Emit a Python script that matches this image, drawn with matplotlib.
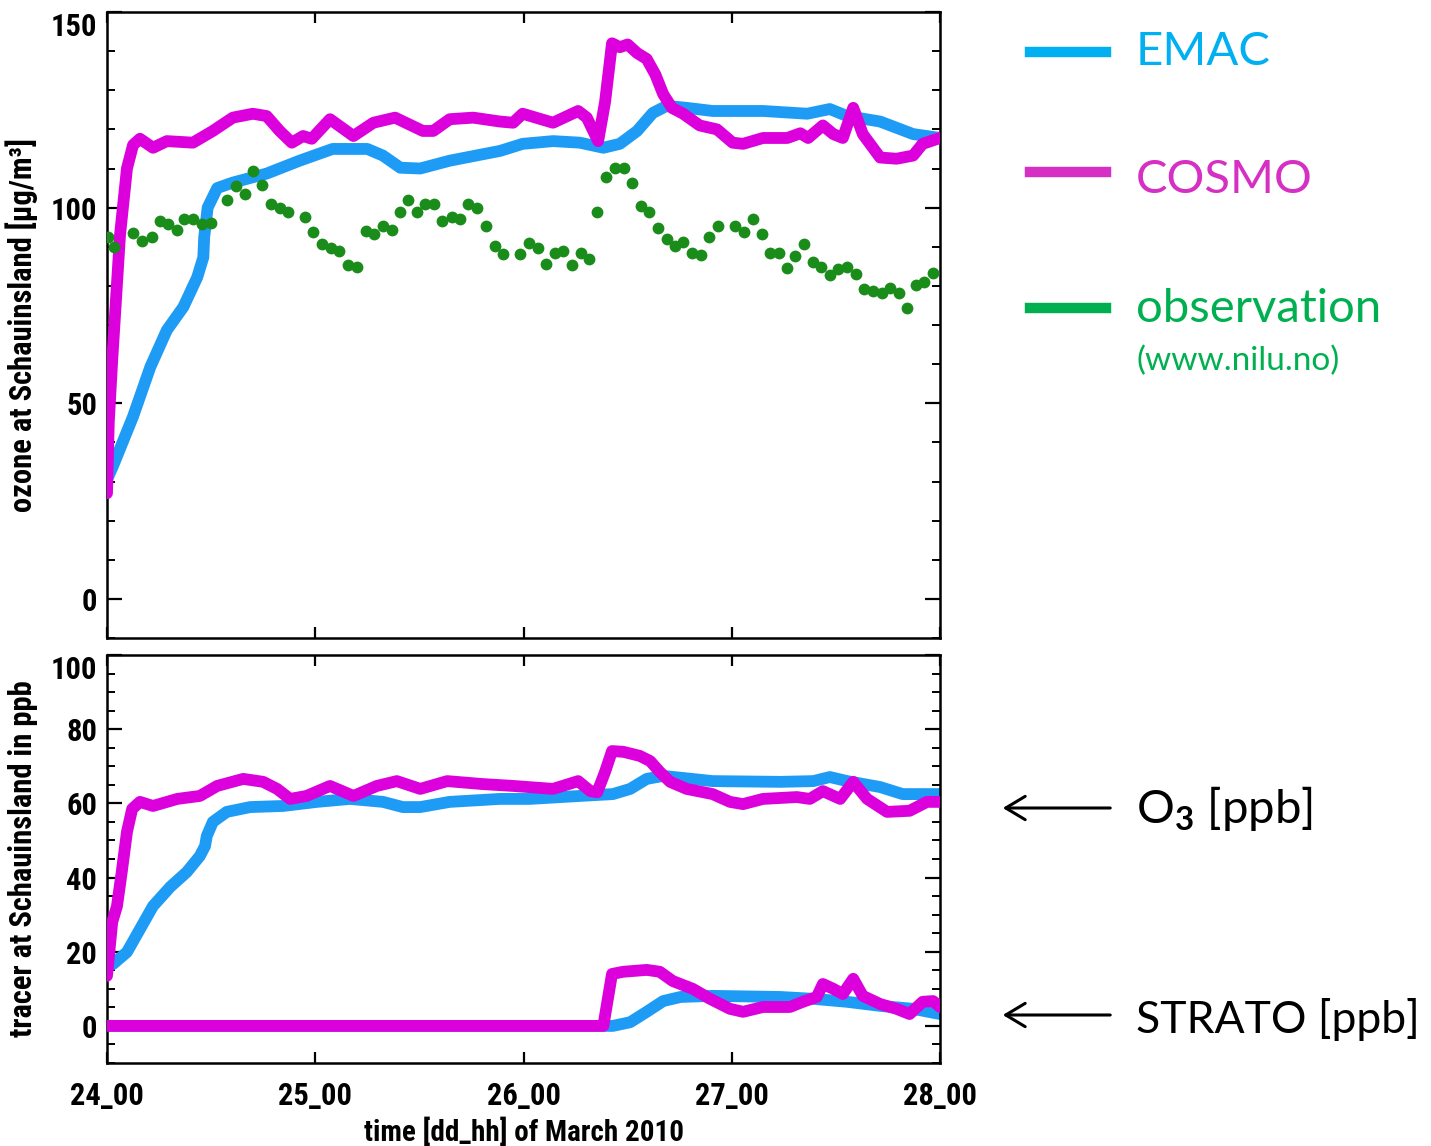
import numpy as np
import matplotlib
matplotlib.use("Agg")
import matplotlib.pyplot as plt
from matplotlib.lines import Line2D
from matplotlib.patches import FancyArrowPatch
from matplotlib.ticker import MultipleLocator

# ---------------------------------------------------------------------------
# Data (hours since 24 March 2010 00 UTC)
# ---------------------------------------------------------------------------
# top panel: ozone [ug/m3]
cosmo_o3_h = [0, 0.2, 0.6, 1.5, 2.3, 3.0, 3.8, 5.3, 6.9, 9.9, 12.2, 14.5, 16.8, 18.4,
              19.9, 21.3, 22.6, 23.6, 25.7, 28.4, 30.7, 33.2, 36.4, 37.6, 39.5, 42.2,
              45.3, 46.8, 47.9, 51.4, 54.3, 55.3, 56.6, 57.4, 58.2, 59.1, 60.0, 61.1,
              62.2, 63.2, 64.1, 65.1, 66.4, 68.3, 70.3, 72.1, 73.3, 75.6, 78.4, 79.9,
              80.8, 82.5, 83.7, 84.8, 86.0, 87.1, 89.1, 91.0, 92.9, 94.0, 96]
cosmo_o3_v = [27, 45, 61, 93, 110, 116, 117.6, 115.3, 117, 116.6, 119.6, 123, 124, 123.4,
              119.6, 116.6, 118.3, 117.6, 122.6, 118.3, 121.7, 123, 119.6, 119.6, 122.6, 123,
              122, 121.7, 124, 121.7, 124.7, 123, 117, 127, 142, 141, 141.7, 139.5,
              138, 134, 129, 125.5, 124, 121, 120, 116.6, 116.3, 117.8, 117.8, 119,
              117.8, 121, 118.8, 117.8, 125.5, 118.8, 112.8, 112.5, 113.3, 116.3, 117.8]

emac_o3_h = [0, 0.7, 3.0, 5.0, 6.9, 8.8, 10.4, 11.1, 11.2, 11.6, 12.7, 14.5, 18.4, 22.2,
             26.0, 30.0, 31.8, 33.8, 36.1, 39.5, 45.3, 47.9, 51.4, 54.5, 57.2, 59.1,
             61.1, 62.9, 64.5, 66.8, 69.8, 75.6, 80.7, 83.3, 85.3, 89.1, 92.9, 96]
emac_o3_v = [30.5, 34, 46.6, 59.3, 68.7, 74.6, 82.2, 87.3, 92.4, 100, 105, 106.4, 108.7, 112,
             115, 115, 113.3, 110.2, 110, 112, 114.5, 116.3, 117, 116.6, 115.3, 116.3,
             119.6, 124.2, 126, 125.5, 124.7, 124.7, 124, 125.2, 123.4, 122, 118.8, 117.8]

obs_h = [0.1, 0.8, 3.0, 4.0, 5.2, 6.1, 7.0, 8.1, 8.9, 9.9, 10.9, 12.0, 13.8, 14.9, 15.9,
         16.8, 17.9, 18.9, 19.9, 20.9, 22.8, 23.7, 24.8, 25.8, 26.7, 27.8, 28.8, 29.8,
         30.8, 31.8, 32.8, 33.8, 34.7, 35.7, 36.6, 37.7, 38.6, 39.8, 40.7, 41.6, 42.6,
         43.7, 44.7, 45.6, 47.6, 48.6, 49.7, 50.6, 51.6, 52.6, 53.6, 54.6, 55.5, 56.5,
         57.5, 58.5, 59.6, 60.5, 61.5, 62.5, 63.5, 64.5, 65.5, 66.4, 67.4, 68.5, 69.4,
         70.4, 72.4, 73.4, 74.5, 75.5, 76.4, 77.4, 78.4, 79.3, 80.3, 81.4, 82.3, 83.3,
         84.2, 85.3, 86.3, 87.2, 88.3, 89.3, 90.2, 91.3, 92.2, 93.2, 94.2, 95.2]
obs_v = [92.4, 89.9, 93.4, 91.4, 92.6, 96.5, 95.7, 94.2, 97.2, 97.2, 95.7, 96, 102, 105.6, 103.6,
         109.4, 105.9, 101, 99.8, 99, 97.5, 93.7, 90.6, 89.8, 88.8, 85.3, 84.8, 93.9,
         93.2, 95.4, 94.2, 99, 102, 98.8, 101, 100.8, 96.7, 97.5, 97.2, 101, 99.8,
         95.4, 90.3, 88.1, 88.1, 90.9, 89.8, 85.5, 88.3, 88.8, 85.3, 88.3, 86.8, 99,
         107.9, 110.2, 110.2, 106.4, 100.3, 99, 94.7, 91.9, 90.1, 91.1, 88.3, 87.8, 92.4,
         95.2, 95.2, 93.7, 97.2, 93.2, 88.3, 88.3, 84.5, 87.6, 90.6, 86, 84.8, 82.7,
         84.2, 84.8, 83, 79.1, 78.7, 78.2, 79.4, 78.2, 74.3, 80.2, 81, 83.2]

# bottom panel: tracers [ppb]
cosmo_tr_o3_h = [0, 0.6, 1.15, 1.7, 2.3, 2.9, 3.8, 5.3, 8.1, 10.7, 12.7, 15.7, 18.0, 19.6,
                 21.1, 23.0, 25.7, 28.4, 31.1, 33.4, 36.1, 39.2, 43.3, 46.8, 51.4, 54.3,
                 55.7, 56.5, 57.4, 58.2, 59.5, 61.4, 62.6, 63.7, 64.9, 66.8, 69.8, 71.8,
                 73.3, 75.6, 79.5, 81.0, 82.5, 84.5, 86.0, 87.6, 89.9, 92.5, 94.5, 96]
cosmo_tr_o3_v = [13.5, 28, 32.3, 41.5, 52.3, 58.5, 60.4, 59.3, 61.2, 62, 64.7, 66.6, 65.8, 63.9,
                 61.2, 62, 64.7, 62, 64.7, 66, 63.9, 66, 65.2, 64.7, 63.9, 66,
                 63.3, 63, 68.5, 74.1, 73.9, 72.8, 71.4, 68.5, 65.8, 63.9, 62.5, 60.4,
                 59.8, 61.2, 61.7, 61.2, 63.3, 61.2, 65.8, 61.2, 57.7, 58, 60.4, 60.4]

emac_tr_o3_h = [0, 0.7, 2.3, 3.8, 5.3, 7.3, 9.2, 10.7, 11.3, 11.5, 12.2, 13.8, 16.5, 20.3,
                24.2, 28.0, 31.8, 34.1, 36.1, 39.5, 45.3, 48.7, 54.5, 58.3, 60.3, 62.2,
                64.1, 69.8, 77.6, 81.4, 83.3, 85.3, 89.1, 91.7, 96]
emac_tr_o3_v = [16, 16.7, 19.9, 26.1, 32.3, 37.5, 41.5, 45.8, 48.5, 51.2, 55, 57.7, 59, 59.3,
                60.4, 61.2, 60.4, 59, 59, 60.4, 61.2, 61.2, 62, 62.5, 63.9, 66.6,
                67.4, 66, 65.8, 66, 67.1, 66, 64.4, 62.5, 62.5]

cosmo_strato_h = [0, 57.2, 58.2, 59.5, 60.6, 62.2, 63.7, 65.2, 67.5, 69.5, 71.8, 73.3, 75.6,
                  78.7, 80.2, 81.8, 82.5, 83.7, 84.8, 86.0, 87.1, 89.1, 91.0, 92.5, 94.0,
                  95.2, 96]
cosmo_strato_v = [0, 0, 14, 14.6, 14.8, 15.1, 14.6, 12.1, 10, 7.3, 4.6, 3.8, 5.1,
                  5.1, 6.5, 7.8, 11.3, 10, 8.6, 12.7, 8.1, 5.9, 4.6, 3.2, 6.5,
                  6.7, 5.1]

emac_strato_h = [0, 58.3, 60.3, 62.2, 64.1, 66.1, 69.8, 77.6, 81.4, 85.3, 89.1, 92.9, 96]
emac_strato_v = [0, 0, 1, 3.8, 6.7, 7.8, 8.1, 7.8, 7.3, 6.5, 5.4, 4.6, 3.2]

day_ticks = [0, 24, 48, 72, 96]
day_labels = ["24_00", "25_00", "26_00", "27_00", "28_00"]

# ---------------------------------------------------------------------------
# Style
# ---------------------------------------------------------------------------
AX_FONT = ["Liberation Sans Narrow", "Roboto Condensed", "DejaVu Sans"]
LEG_FONT = ["Lato", "DejaVu Sans"]
plt.rcParams.update({
    "font.family": AX_FONT,
    "font.weight": "bold",
    "font.stretch": "condensed",
    "mathtext.fontset": "custom",
    "mathtext.rm": "Lato",
    "mathtext.default": "rm",
})

EMAC_C = "#1e9cf5"
COSMO_C = "#dc00dc"
OBS_C = "#1a8c1a"
LW = 8.5

W, H = 1431, 1146
fig = plt.figure(figsize=(W / 100, H / 100), dpi=100)
ax1 = fig.add_axes([107 / W, 1 - 638 / H, 833 / W, 626 / H])
ax2 = fig.add_axes([107 / W, 1 - 1063 / H, 833 / W, 408 / H])


def style_axis(ax, major, minor, ylim):
    ax.set_xlim(0, 96)
    ax.set_ylim(*ylim)
    ax.set_xticks(day_ticks)
    ax.yaxis.set_major_locator(MultipleLocator(major))
    ax.yaxis.set_minor_locator(MultipleLocator(minor))
    ax.tick_params(axis="both", which="major", direction="in", top=True, right=True,
                   width=1.6, labelsize=22, pad=7)
    ax.tick_params(axis="y", which="major", length=11)
    ax.tick_params(axis="x", which="major", length=8)
    ax.tick_params(axis="y", which="minor", direction="in", right=True, length=6, width=1.4)
    for s in ax.spines.values():
        s.set_linewidth(1.8)


# top panel
ax1.plot(emac_o3_h, emac_o3_v, color=EMAC_C, lw=LW, solid_capstyle="round",
         solid_joinstyle="round", zorder=2)
ax1.plot(cosmo_o3_h, cosmo_o3_v, color=COSMO_C, lw=LW, solid_capstyle="round",
         solid_joinstyle="round", zorder=3)
ax1.plot(obs_h, obs_v, "o", color=OBS_C, ms=8.5, mec="none", zorder=4)
style_axis(ax1, 50, 10, (-10, 150))
ax1.set_xticklabels([])
ax1.set_yticks([0, 50, 100, 150])
ax1.set_ylabel("ozone at Schauinsland [µg/m³]", fontsize=22, fontweight="bold")
ax1.yaxis.set_label_coords(-0.083, 0.5)
ax1.get_yticklabels()[-1].set_va("top")

# bottom panel
for h, v, c, z in [(emac_tr_o3_h, emac_tr_o3_v, EMAC_C, 2),
                   (cosmo_tr_o3_h, cosmo_tr_o3_v, COSMO_C, 3),
                   (emac_strato_h, emac_strato_v, EMAC_C, 2),
                   (cosmo_strato_h, cosmo_strato_v, COSMO_C, 3)]:
    ax2.plot(h, v, color=c, lw=LW, solid_capstyle="round", solid_joinstyle="round", zorder=z)
style_axis(ax2, 20, 5, (-10, 100))
ax2.set_yticks([0, 20, 40, 60, 80, 100])
ax2.set_xticklabels(day_labels)
ax2.tick_params(axis="x", pad=13)
ax2.get_yticklabels()[-1].set_va("top")
ax2.set_ylabel("tracer at Schauinsland in ppb", fontsize=22, fontweight="bold")
ax2.yaxis.set_label_coords(-0.083, 0.5)
ax2.set_xlabel("time [dd_hh] of March 2010", fontsize=21, fontweight="bold", labelpad=5)

# ---------------------------------------------------------------------------
# Legend drawn as free text on the figure
# ---------------------------------------------------------------------------
leg = [("EMAC", "#00b0f0", 52, 65), ("COSMO", "#d62fc4", 172, 193),
       ("observation", "#00b050", 308, 322)]
for name, col, ly, by in leg:
    fig.add_artist(Line2D([1030 / W, 1106 / W], [1 - ly / H, 1 - ly / H],
                          color=col, lw=7.5, transform=fig.transFigure))
    fig.text(1136 / W, 1 - by / H, name, color=col, fontsize=34, stretch="normal",
             family=LEG_FONT, fontweight="normal", va="baseline", ha="left")
fig.text(1136 / W, 1 - 370 / H, "(www.nilu.no)", color="#00b050", fontsize=24,
         stretch="normal", family=LEG_FONT, fontweight="normal", va="baseline", ha="left")

for label, ay, by, fs in [(r"O$_3$ [ppb]", 808, 823, 34), ("STRATO [ppb]", 1015, 1033, 32)]:
    fig.add_artist(FancyArrowPatch((1113 / W, 1 - ay / H), (1000 / W, 1 - ay / H),
                                   transform=fig.transFigure,
                                   arrowstyle="->,head_length=10,head_width=6",
                                   lw=2.2, color="black", mutation_scale=1.4))
    fig.text(1136 / W, 1 - by / H, label, color="black", fontsize=fs, stretch="normal",
             family=LEG_FONT, fontweight="normal", va="baseline", ha="left")

fig.savefig("out.png", dpi=100)
